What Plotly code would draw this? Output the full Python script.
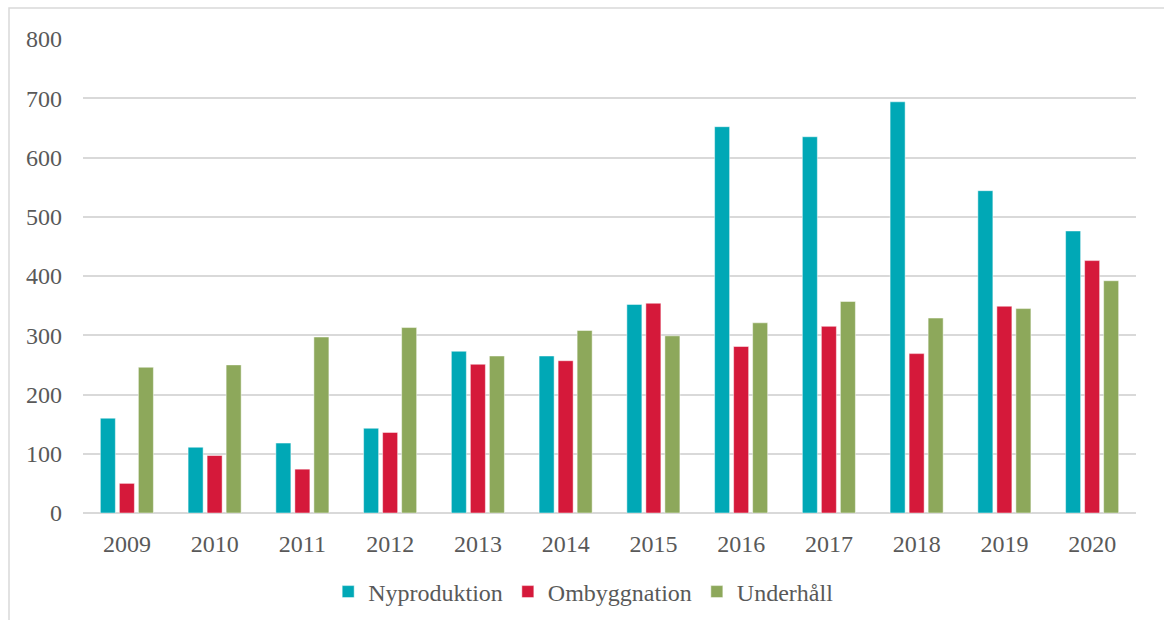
import plotly.graph_objects as go

years = ["2009", "2010", "2011", "2012", "2013", "2014", "2015", "2016", "2017", "2018", "2019", "2020"]
nyproduktion = [160, 111, 118, 143, 273, 265, 352, 652, 635, 694, 544, 476]
ombyggnation = [50, 97, 74, 136, 251, 257, 354, 281, 315, 269, 349, 426]
underhall = [246, 250, 297, 313, 265, 308, 299, 321, 357, 329, 345, 392]
y_ticks = [0, 100, 200, 300, 400, 500, 600, 700, 800]

series = [
    ("Nyproduktion", nyproduktion, "#00A8B6"),
    ("Ombyggnation", ombyggnation, "#D5193A"),
    ("Underhåll", underhall, "#8DA85B"),
]

W, H = 1164, 620
L, R, T, B = 83, 28, 39, 107
pw, ph = W - L - R, H - T - B

fig = go.Figure()
for name, vals, col in series:
    fig.add_trace(go.Bar(
        x=years, y=vals, name=name,
        marker=dict(color=col, line=dict(color="rgba(255,255,255,0.6)", width=0.8)),
    ))

font_fam = "Liberation Serif, Times New Roman, serif"
fig.update_layout(
    width=W, height=H,
    margin=dict(l=L, r=R, t=T, b=B, pad=0, autoexpand=False),
    paper_bgcolor="white", plot_bgcolor="white",
    barmode="group", bargap=0.35, bargroupgap=0.21,
    font=dict(family=font_fam, size=24, color="#595959"),
    showlegend=True,
    legend=dict(orientation="h", x=0.475, xanchor="center", y=-(592 - (T + ph)) / ph, yanchor="middle",
                font=dict(family=font_fam, size=24, color="#595959"),
                itemwidth=30, tracegroupgap=0, traceorder="normal"),
    xaxis=dict(showgrid=False, showline=False, zeroline=False, ticks="",
               tickfont=dict(size=24), ticklabelstandoff=14),
    yaxis=dict(range=[0, 800], tickvals=y_ticks, showgrid=True, gridcolor="#D9D9D9",
               gridwidth=1.5, zeroline=True, zerolinecolor="#D9D9D9", zerolinewidth=1.5,
               showline=False, ticks="", tickfont=dict(size=24), ticklabelstandoff=20),
    shapes=[dict(type="rect", xref="paper", yref="paper",
                 x0=(9 - L) / pw, x1=(W + 20 - L) / pw,
                 y0=(T + ph - (H + 20)) / ph, y1=(T + ph - 8) / ph,
                 line=dict(color="#D9D9D9", width=1.5), fillcolor="rgba(0,0,0,0)", layer="below")],
)

fig.write_html("out.html")
